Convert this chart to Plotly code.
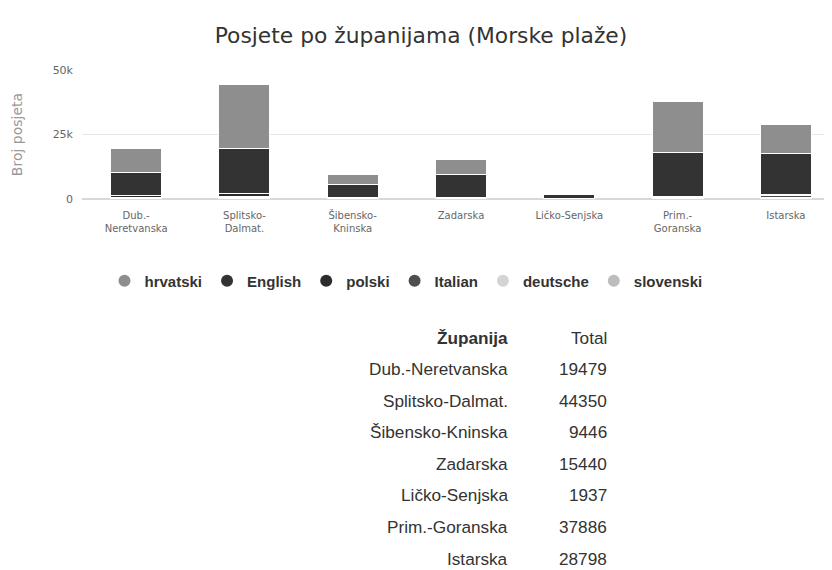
import plotly.graph_objects as go

counties = ["Dub.-Neretvanska", "Splitsko-Dalmat.", "Šibensko-Kninska", "Zadarska",
            "Ličko-Senjska", "Prim.-Goranska", "Istarska"]
tick_labels = ["Dub.-<br>Neretvanska", "Splitsko-<br>Dalmat.", "Šibensko-<br>Kninska", "Zadarska",
               "Ličko-Senjska", "Prim.-<br>Goranska", "Istarska"]

hrvatski = [9100, 24850, 4000, 6100, 200, 20000, 11300]
english = [9200, 17500, 4900, 8700, 1600, 16800, 15600]
polski = [600, 1000, 300, 350, 80, 500, 600]
italian = [350, 600, 150, 180, 40, 350, 700]
deutsche = [180, 300, 70, 80, 12, 186, 450]
slovenski = [49, 100, 26, 30, 5, 50, 148]

series = [
    ("hrvatski", hrvatski, '#8e8e8e'),
    ("English", english, '#333333'),
    ("polski", polski, '#2c2c2c'),
    ("Italian", italian, '#4e4e4e'),
    ("deutsche", deutsche, '#d4d4d4'),
    ("slovenski", slovenski, '#bdbdbd'),
]

totals = [sum(v) for v in zip(*[s[1] for s in series])]

text_color = '#333333'
axis_color = '#666666'

# the page body adds an 8px offset, so the plot area is placed 8px up/left
L, T, PH = 74, 62, 129
W, H = 832, 570


def px(x):
    # window pixel x -> paper x
    return (x - 8 - L) / (W - L)


def py(y):
    # window pixel y -> paper y
    return (T + PH - (y - 8)) / PH


fig = go.Figure()

# stacked bars, first series drawn on top like Highcharts
for name, values, color in reversed(series):
    fig.add_trace(go.Bar(
        x=list(range(len(counties))),
        y=values,
        name=name,
        width=0.47,
        marker=dict(color=color, line=dict(color='white', width=1)),
        showlegend=False))

# legend entries with round symbols
for name, values, color in series:
    fig.add_trace(go.Scatter(
        x=[None], y=[None], mode='markers', name=name,
        marker=dict(color=color, size=12, symbol='circle')))

# table below the chart
annotations = [
    dict(text="<b>Županija</b>", x=px(510), y=py(338)),
    dict(text="Total", x=px(609), y=py(338)),
]
for i, (county, total) in enumerate(zip(counties, totals)):
    y = py(369 + i * 31.6)
    annotations.append(dict(text=county, x=px(510), y=y))
    annotations.append(dict(text=str(total), x=px(609), y=y))

for a in annotations:
    a.update(xref='paper', yref='paper', showarrow=False, xanchor='right', yanchor='middle',
             font=dict(family='Liberation Sans, Arial', size=17.2, color=text_color))

fig.update_layout(
    width=W, height=H,
    margin=dict(l=L, r=0, t=T, b=H - T - PH),
    barmode='stack',
    paper_bgcolor='white',
    plot_bgcolor='white',
    font=dict(family='DejaVu Sans', color=axis_color),
    title=dict(text="Posjete po županijama (Morske plaže)", x=413 / W, xanchor='center',
               y=1 - 27 / H, yanchor='middle',
               font=dict(family='DejaVu Sans', size=21.8, color=text_color)),
    xaxis=dict(range=[-0.5, 6.5], tickvals=list(range(len(counties))), ticktext=tick_labels,
               tickfont=dict(size=10, color=axis_color), showgrid=False, zeroline=False,
               showline=False, ticks='', ticklabelstandoff=9, automargin=False),
    yaxis=dict(range=[0, 50000], tickvals=[0, 25000, 50000], ticktext=["0", "25k", "50k"],
               tickfont=dict(size=11, color=axis_color), gridcolor='#e6e6e6', zeroline=True,
               zerolinecolor='#d8d8d8', ticklabelstandoff=8, automargin=False,
               title=dict(text="Broj posjeta", font=dict(size=14, color='#999999'), standoff=26)),
    legend=dict(orientation='h', x=px(406), xanchor='center', y=py(281), yanchor='middle',
                traceorder='normal',
                font=dict(family='Liberation Sans, Arial', size=15, color=text_color, weight='bold'),
                itemwidth=30),
    annotations=annotations,
)

fig.write_html("out.html")
